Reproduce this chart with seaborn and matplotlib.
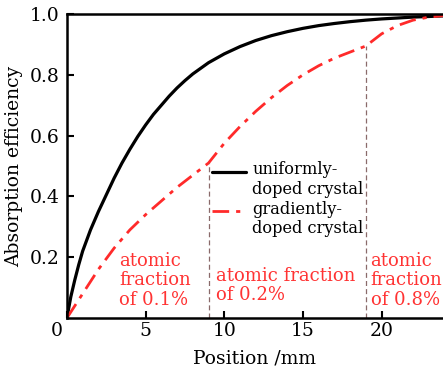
import numpy as np
import pandas as pd
import matplotlib
matplotlib.use("Agg")
import matplotlib.pyplot as plt
import matplotlib.transforms as mtransforms
import seaborn as sns

# values
pos_uniform = [0, 0.25, 0.5, 0.75, 1, 1.5, 2, 2.5, 3, 3.5, 4, 4.5, 5, 5.5, 6, 6.5, 7, 7.5,
               8, 9, 10, 11, 12, 13, 14, 15, 16, 17, 18, 19, 20, 21, 22, 23, 24]
eff_uniform = [0, 0.07, 0.125, 0.175, 0.22, 0.29, 0.35, 0.405, 0.46, 0.51, 0.555, 0.597,
               0.635, 0.67, 0.70, 0.73, 0.757, 0.781, 0.803, 0.84, 0.869, 0.893, 0.913,
               0.929, 0.942, 0.953, 0.962, 0.969, 0.975, 0.98, 0.984, 0.987, 0.99,
               0.992, 0.994]

pos_gradient = [0, 1, 2, 3, 4, 5, 6, 7, 8, 9, 10, 11, 12, 13, 14, 15, 16, 17, 18, 19,
                20, 21, 22, 23, 24]
eff_gradient = [0, 0.08, 0.16, 0.23, 0.29, 0.34, 0.385, 0.43, 0.47, 0.51, 0.575, 0.63,
                0.68, 0.725, 0.765, 0.80, 0.83, 0.855, 0.875, 0.895, 0.935, 0.962,
                0.98, 0.99, 0.995]

boundaries = [9, 19]
boundary_tops = [0.51, 0.895]
region_text = ["atomic\nfraction\nof 0.1%", "atomic fraction\nof 0.2%", "atomic\nfraction\nof 0.8%"]
region_x = [3.3, 9.5, 19.3]
region_y = [0.218, 0.168, 0.218]

sns.set_style("ticks")
plt.rcParams["font.family"] = ["DejaVu Serif"]
plt.rcParams["font.size"] = 13
plt.rcParams["text.color"] = "black"
plt.rcParams["axes.labelcolor"] = "black"
plt.rcParams["xtick.color"] = "black"
plt.rcParams["ytick.color"] = "black"
plt.rcParams["axes.edgecolor"] = "black"
plt.rcParams["xtick.direction"] = "in"
plt.rcParams["ytick.direction"] = "in"

fig = plt.figure(figsize=(4.43, 3.8), dpi=100)
ax = fig.add_axes([0.151, 0.163, 0.849, 0.8])

uni = pd.DataFrame({"x": pos_uniform, "y": eff_uniform})
grad = pd.DataFrame({"x": pos_gradient, "y": eff_gradient})
sns.lineplot(data=uni, x="x", y="y", ax=ax, color="black", lw=2.3,
             solid_joinstyle="round", label="uniformly-\ndoped crystal")
sns.lineplot(data=grad, x="x", y="y", ax=ax, color="#ff2a2a", lw=2.0,
             linestyle=(0, (6, 2.5, 1.5, 2.5)), label="gradiently-\ndoped crystal")

for bx, by in zip(boundaries, boundary_tops):
    ax.plot([bx, bx], [0, by], color="#8a6a6a", lw=0.9, ls=(0, (4, 2.5)))

for t, tx, ty in zip(region_text, region_x, region_y):
    ax.text(tx, ty, t, color="#ff3333", ha="left", va="top", linespacing=1.1, fontsize=13)

ax.set_xlim(0, 23.9)
ax.set_ylim(0, 1.0)
ax.set_xticks([0, 5, 10, 15, 20])
ax.set_yticks([0.2, 0.4, 0.6, 0.8, 1.0])
ax.set_yticklabels(["0.2", "0.4", "0.6", "0.8", "1.0"])
ax.tick_params(length=5, width=1.5, labelsize=13.5)
ax.tick_params(axis="x", pad=3)
ax.tick_params(axis="y", pad=5)
for s in ["left", "bottom", "top"]:
    ax.spines[s].set_linewidth(1.8)
ax.spines["right"].set_visible(False)
ax.set_xlabel("Position /mm", labelpad=7, fontsize=13.5)
ax.set_ylabel("Absorption efficiency", labelpad=5, fontsize=13.5)

# origin label sits left of the corner
lbl0 = ax.get_xticklabels()[0]
lbl0.set_transform(lbl0.get_transform() + mtransforms.ScaledTranslation(-0.1, 0, fig.dpi_scale_trans))

leg = ax.legend(loc="upper left", bbox_to_anchor=(0.385, 0.515), frameon=False,
                borderpad=0, handlelength=2.1, handletextpad=0.4, labelspacing=0.15,
                borderaxespad=0, fontsize=11.7)
# handles line up with the first line of each label
for h in leg.legend_handles:
    h.set_ydata(np.asarray(h.get_ydata()) + 6.5)

fig.savefig("out.png", dpi=100)
